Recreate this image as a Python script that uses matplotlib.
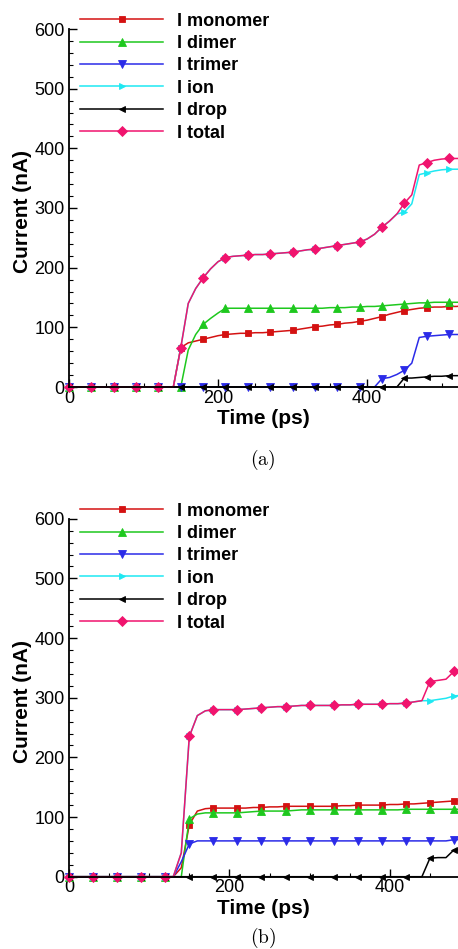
import matplotlib
matplotlib.use('Agg')
import matplotlib.pyplot as plt
from matplotlib.ticker import MultipleLocator

plt.rcParams['font.family'] = ['Liberation Sans', 'DejaVu Sans']

# time grid (ps), one sample every 10 ps
time_a = [0, 10, 20, 30, 40, 50, 60, 70, 80, 90, 100, 110, 120, 130, 140, 150, 160, 170,
          180, 190, 200, 210, 220, 230, 240, 250, 260, 270, 280, 290, 300, 310, 320, 330,
          340, 350, 360, 370, 380, 390, 400, 410, 420, 430, 440, 450, 460, 470, 480, 490,
          500, 510, 520, 530]
time_b = time_a[:50]

# panel (a) currents (nA)
mono_a = [0]*15 + [66, 74, 77, 80, 83, 86, 88, 89, 90, 90, 91, 91, 92, 93, 94, 95, 97, 99,
                   101, 102, 104, 105, 107, 108, 110, 112, 115, 118, 122, 125, 128, 130, 132,
                   133, 134, 134, 135, 135, 136]
dimer_a = [0]*16 + [62, 88, 105, 115, 124, 132, 132, 132, 132, 132, 132, 132, 132, 132, 132,
                    132, 132, 132, 132, 133, 133, 133, 134, 134, 135, 135, 136, 137, 138, 139,
                    140, 141, 141, 142, 142, 142, 142, 142]
trimer_a = [0]*42 + [14, 16, 21, 28, 40, 83, 85, 86, 87, 88, 88, 88]
ion_a = [0]*15 + [66, 140, 165, 183, 198, 210, 217, 219, 220, 221, 222, 222, 223, 224, 225,
                  226, 228, 230, 231, 233, 235, 237, 239, 241, 243, 248, 256, 268, 278, 290,
                  293, 307, 356, 359, 362, 364, 365, 365, 365]
drop_a = [0]*45 + [15, 15, 16, 17, 18, 18, 19, 19, 19]
total_a = [0]*15 + [66, 140, 165, 183, 198, 210, 217, 219, 220, 221, 222, 222, 223, 224, 225,
                    226, 228, 230, 231, 233, 235, 237, 239, 241, 243, 248, 256, 268, 278, 290,
                    308, 322, 372, 376, 380, 382, 383, 383, 383]

# panel (b) currents (nA)
mono_b = [0]*14 + [15, 87, 110, 114, 115, 115, 115, 115, 115, 116, 116, 117, 117, 118, 118,
                   118, 118, 118, 118, 118, 119, 119, 120, 120, 120, 120, 121, 121, 122, 122,
                   123, 124, 125, 126, 127, 128]
dimer_b = [0]*15 + [97, 105, 107, 107, 107, 107, 107, 108, 109, 110, 110, 110, 110, 111, 112,
                    112, 112, 112, 112, 112, 112, 112, 112, 112, 112, 112, 112, 113, 113, 113,
                    113, 113, 113, 113, 113]
trimer_b = [0]*14 + [25, 55, 60] + [60]*31 + [62, 62]
ion_b = [0]*14 + [40, 235, 270, 278, 280, 280, 280, 280, 281, 282, 283, 284, 285, 285, 286,
                  287, 287, 287, 287, 287, 288, 288, 289, 289, 289, 289, 290, 290, 291, 293,
                  295, 295, 297, 299, 303, 304]
drop_b = [0]*45 + [31, 32, 32, 45, 46]
total_b = [0]*14 + [40, 235, 270, 278, 280, 280, 280, 280, 281, 282, 283, 284, 285, 285, 286,
                    287, 287, 287, 287, 287, 288, 288, 289, 289, 289, 289, 290, 290, 291, 293,
                    295, 327, 329, 331, 344, 346]

labels = ['I monomer', 'I dimer', 'I trimer', 'I ion', 'I drop', 'I total']
colors = ['#d41212', '#1ec81e', '#2b2be8', '#1ee8f2', '#000000', '#f0146e']
markers = ['s', '^', 'v', '>', '<', 'D']
sizes = [5, 5.5, 5.5, 5, 5, 5.2]

W, H = 458.0, 949.0


def draw_panel(ax, t, series, xmax, legend_top):
    for y, lab, c, m, ms in zip(series, labels, colors, markers, sizes):
        ax.plot(t, y, color=c, lw=1.1, marker=m, ms=ms, markevery=3,
                markeredgewidth=0.6, label=lab, clip_on=False)
    ax.set_xlim(0, xmax)
    ax.set_ylim(0, 600)
    ax.spines['top'].set_visible(False)
    ax.spines['right'].set_visible(False)
    ax.spines['left'].set_linewidth(1.3)
    ax.spines['bottom'].set_linewidth(1.3)
    ax.xaxis.set_major_locator(MultipleLocator(200))
    ax.xaxis.set_minor_locator(MultipleLocator(50))
    ax.yaxis.set_major_locator(MultipleLocator(100))
    ax.yaxis.set_minor_locator(MultipleLocator(20))
    ax.tick_params(which='major', direction='in', length=6, width=1.0, labelsize=13, pad=2)
    ax.tick_params(which='minor', direction='in', length=3, width=0.8)
    ax.tick_params(axis='y', pad=3)
    ax.set_xlabel('Time (ps)', fontsize=15, fontweight='bold')
    ax.set_ylabel('Current (nA)', fontsize=15, fontweight='bold')
    ax.xaxis.set_label_coords(0.5, -0.062)
    ax.yaxis.set_label_coords(-0.095, 0.49)
    ax.legend(loc='upper left', bbox_to_anchor=(80 / W, 1 - legend_top / H),
              bbox_transform=ax.figure.transFigure, frameon=False, borderpad=0,
              borderaxespad=0, handlelength=4.6, handletextpad=0.78, labelspacing=0.3,
              numpoints=1, prop={'size': 13, 'weight': 'bold'})


fig = plt.figure(figsize=(W / 100, H / 100), dpi=100)
ax_a = fig.add_axes([69 / W, 1 - 387 / H, 389 / W, 358 / H])
ax_b = fig.add_axes([69 / W, 1 - 876.7 / H, 389 / W, 358 / H])

draw_panel(ax_a, time_a, [mono_a, dimer_a, trimer_a, ion_a, drop_a, total_a], 522, 12.5)
draw_panel(ax_b, time_b, [mono_b, dimer_b, trimer_b, ion_b, drop_b, total_b], 485, 502.5)

fig.text(263 / W, 1 - 465 / H, r'$\mathrm{(a)}$', ha='center', va='baseline',
         fontsize=14, math_fontfamily='cm')
fig.text(263 / W, 1 - 943 / H, r'$\mathrm{(b)}$', ha='center', va='baseline',
         fontsize=14, math_fontfamily='cm')

fig.savefig('out.png', dpi=100)
